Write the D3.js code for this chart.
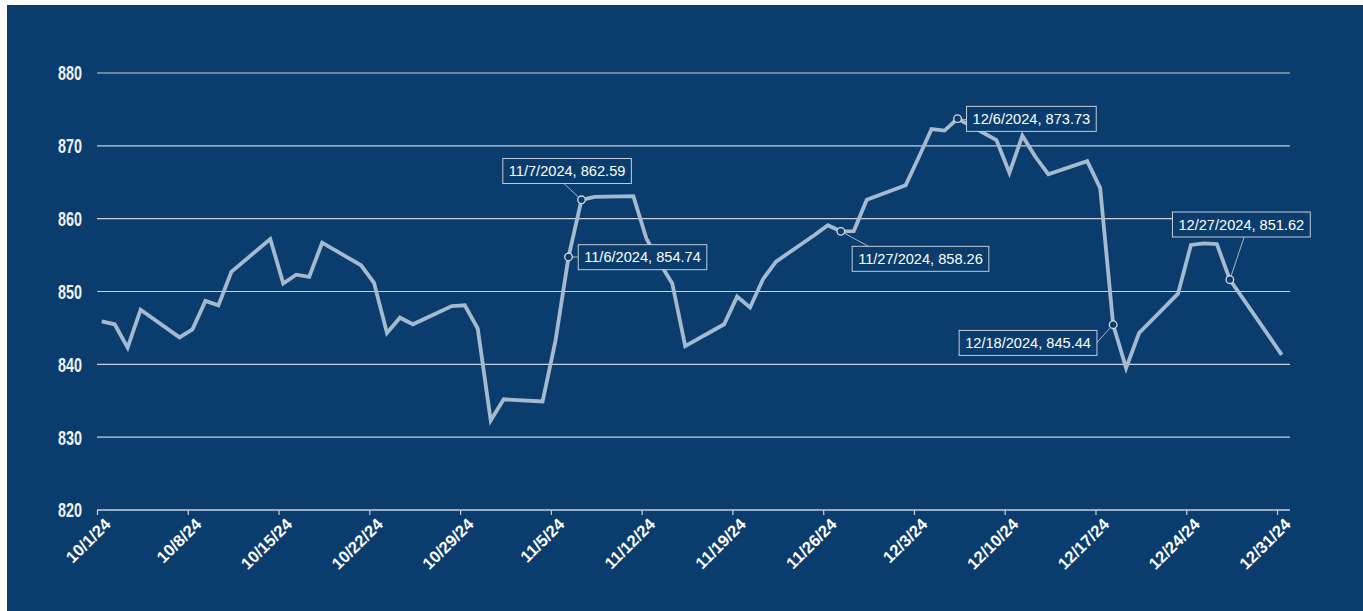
<!DOCTYPE html>
<html>
<head>
<meta charset="utf-8">
<script src="https://cdn.jsdelivr.net/npm/d3@7"></script>
<style>
  html, body { margin: 0; padding: 0; background: #ffffff; }
  svg { display: block; }
</style>
</head>
<body>
<svg id="chart" width="1363" height="611"></svg>
<script>
// ---- data ----
const dates = [
  "2024-10-01","2024-10-02","2024-10-03","2024-10-04",
  "2024-10-07","2024-10-08","2024-10-09","2024-10-10","2024-10-11",
  "2024-10-14","2024-10-15","2024-10-16","2024-10-17","2024-10-18",
  "2024-10-21","2024-10-22","2024-10-23","2024-10-24","2024-10-25",
  "2024-10-28","2024-10-29","2024-10-30","2024-10-31","2024-11-01",
  "2024-11-04","2024-11-05","2024-11-06","2024-11-07","2024-11-08",
  "2024-11-11","2024-11-12","2024-11-13","2024-11-14","2024-11-15",
  "2024-11-18","2024-11-19","2024-11-20","2024-11-21","2024-11-22",
  "2024-11-25","2024-11-26","2024-11-27","2024-11-28","2024-11-29",
  "2024-12-02","2024-12-03","2024-12-04","2024-12-05","2024-12-06",
  "2024-12-09","2024-12-10","2024-12-11","2024-12-12","2024-12-13",
  "2024-12-16","2024-12-17","2024-12-18","2024-12-19","2024-12-20",
  "2024-12-23","2024-12-24","2024-12-25","2024-12-26","2024-12-27",
  "2024-12-30","2024-12-31"
];
const values = [
  845.9, 845.5, 842.3, 847.5,
  843.7, 844.8, 848.7, 848.1, 852.7,
  857.2, 851.1, 852.3, 852.0, 856.7,
  853.6, 851.2, 844.3, 846.4, 845.5,
  848.0, 848.1, 844.9, 832.3, 835.2,
  834.9, 843.3, 854.74, 862.59, 863.0,
  863.1, 857.3, 854.0, 851.1, 842.5,
  845.5, 849.3, 847.8, 851.7, 854.1,
  857.8, 859.1, 858.26, 858.3, 862.6,
  864.6, 868.4, 872.3, 872.1, 873.73,
  870.8, 866.3, 871.4, 868.5, 866.1,
  867.9, 864.2, 845.44, 839.5, 844.3,
  849.7, 856.4, 856.6, 856.5, 851.62,
  843.9, 841.3
];
const tickDates = [
  "2024-10-01","2024-10-08","2024-10-15","2024-10-22","2024-10-29",
  "2024-11-05","2024-11-12","2024-11-19","2024-11-26",
  "2024-12-03","2024-12-10","2024-12-17","2024-12-24","2024-12-31"
];
const yTicks = [820, 830, 840, 850, 860, 870, 880];
const annotDates = ["2024-11-07","2024-11-06","2024-11-27","2024-12-06","2024-12-18","2024-12-27"];
const annotLabels = ["11/7/2024, 862.59","11/6/2024, 854.74","11/27/2024, 858.26","12/6/2024, 873.73","12/18/2024, 845.44","12/27/2024, 851.62"];

// ---- layout (not data) ----
// box top-left offset from point, leader end offset from point
const annotLayout = [
  {bx: -78.7, by: -41.3, lx: -17.7, ly: -16.3},
  {bx: 9.7,  by: -12.3, lx: 9.7,  ly: 0},
  {bx: 11.3, by: 15,    lx: 27.6, ly: 15},
  {bx: 9,    by: -12.3, lx: 9,    ly: 1},
  {bx: -154, by: 5.7,   lx: -18.3, ly: 20},
  {bx: -57.4, by: -67.7, lx: 14.3, ly: -42.7}
];

const BG = "#0a3d6e";
const parse = d3.utcParse("%Y-%m-%d");
const data = dates.map((d, i) => ({date: parse(d), value: values[i]}));

const svg = d3.select("#chart");
svg.append("rect").attr("x", 7).attr("y", 5).attr("width", 1356).attr("height", 606).attr("fill", BG);

const x0 = 97, x1 = 1290, yTop = 73, yBot = 510;
// points sit slightly right of their tick (Excel-style date axis)
const shift = 4.7;
const xAxisScale = d3.scaleUtc()
  .domain([parse("2024-10-01"), parse("2025-01-01")])
  .range([x0, x1]);
const x = xAxisScale.copy().range([x0 + shift, x1 + shift]);
const y = d3.scaleLinear().domain([820, 880]).range([yBot, yTop]);

// grid lines
svg.append("g").selectAll("line").data(yTicks.filter(t => t !== 820)).join("line")
  .attr("x1", x0).attr("x2", x1)
  .attr("y1", d => y(d)).attr("y2", d => y(d))
  .attr("stroke", "#c8d1db").attr("stroke-width", 1.2);

// y labels (condensed look)
svg.append("g").selectAll("text").data(yTicks).join("text")
  .attr("transform", d => `translate(82,${y(d)}) scale(0.7,1)`)
  .attr("dy", "0.36em")
  .attr("text-anchor", "end")
  .attr("fill", "#eef1f5")
  .attr("font-family", "'Liberation Sans', Arial, sans-serif")
  .attr("font-weight", "bold")
  .attr("font-size", 20.5)
  .text(d => d);

// x axis
const xAxis = d3.axisBottom(xAxisScale)
  .tickValues(tickDates.map(parse))
  .tickSize(5)
  .tickFormat(d3.utcFormat("%-m/%-d/%y"));
const gx = svg.append("g").attr("transform", `translate(0,${yBot})`).call(xAxis);
gx.attr("font-size", null).attr("font-family", null);
gx.select(".domain").attr("stroke", "#c8d1db").attr("stroke-width", 1.5)
  .attr("d", `M${x0},0H${x1}`);
gx.selectAll(".tick line").attr("stroke", "#c8d1db").attr("stroke-width", 1.2);
gx.selectAll(".tick text")
  .attr("fill", "#ffffff")
  .attr("font-family", "'Liberation Sans', Arial, sans-serif")
  .attr("font-weight", "bold")
  .attr("font-size", 16.5)
  .attr("text-anchor", "end")
  .attr("transform", "translate(6,7) rotate(-45)")
  .attr("x", 0).attr("y", 0).attr("dy", "0.7em");

// line
const line = d3.line().x(d => x(d.date)).y(d => y(d.value));
svg.append("path").datum(data)
  .attr("d", line)
  .attr("fill", "none")
  .attr("stroke", "#a3bad0")
  .attr("stroke-width", 3.8)
  .attr("stroke-linejoin", "miter")
  .attr("stroke-linecap", "butt");

// annotations
const ag = svg.append("g");
annotDates.forEach((ds, i) => {
  const pt = data.find(d => +d.date === +parse(ds));
  const px = x(pt.date), py = y(pt.value);
  const L = annotLayout[i];
  const g = ag.append("g");
  g.append("line")
    .attr("x1", px).attr("y1", py)
    .attr("x2", px + L.lx).attr("y2", py + L.ly)
    .attr("stroke", "#aab6c3").attr("stroke-width", 1);
  const t = g.append("text")
    .attr("x", px + L.bx + 6).attr("y", py + L.by + 12.5)
    .attr("dy", "0.35em")
    .attr("fill", "#ffffff")
    .attr("font-family", "'Liberation Sans', Arial, sans-serif")
    .attr("font-size", 14.6)
    .text(annotLabels[i]);
  const bb = t.node().getBBox();
  g.insert("rect", "text")
    .attr("x", px + L.bx).attr("y", py + L.by)
    .attr("width", bb.width + 12).attr("height", 25)
    .attr("fill", BG).attr("stroke", "#c3ccd6").attr("stroke-width", 1);
  g.append("circle").attr("cx", px).attr("cy", py).attr("r", 3.8)
    .attr("fill", BG).attr("stroke", "#d3dbe3").attr("stroke-width", 1.3);
});
</script>
</body>
</html>
